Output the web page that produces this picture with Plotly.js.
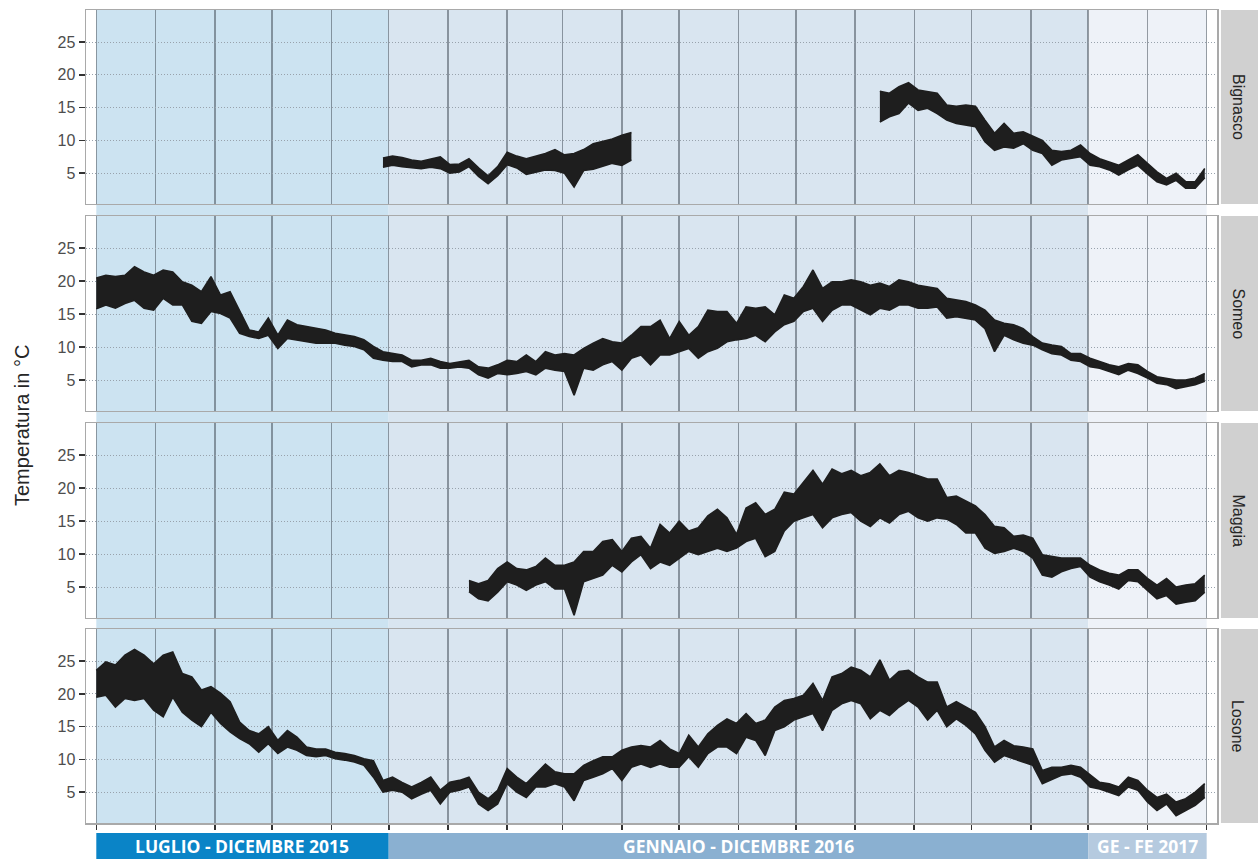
<!DOCTYPE html>
<html>
<head>
<meta charset="utf-8">
<script src="https://cdn.plot.ly/plotly-3.0.1.min.js"></script>
<style>
  html, body { margin: 0; padding: 0; background: #ffffff; }
  #chart { width: 1258px; height: 859px; }
</style>
</head>
<body>
<div id="chart"></div>
<script>
// Water temperature, daily minimum / maximum envelope sampled every 5 days,
// counted from 1 July 2015.
const seriesStart = '2015-07-01';
const sampleStepDays = 5;

const stations = ['Bignasco', 'Someo', 'Maggia', 'Losone'];

// Bignasco: two recording periods
const bignascoA_startDay = 150;
const bignascoA_lo = [5.9,6.2,6.0,5.8,5.7,5.9,5.7,5.0,5.2,6.0,4.5,3.4,4.6,6.3,5.8,4.8,5.2,5.5,5.4,5.0,2.9,5.4,5.6,6.0,6.5,6.2,7.0];
const bignascoA_hi = [7.3,7.6,7.4,7.0,6.8,7.2,7.5,6.3,6.4,7.2,5.8,4.6,6.0,8.2,7.6,7.2,7.6,8.0,8.6,7.8,8.0,8.6,9.5,9.8,10.2,10.8,11.2];
const bignascoB_startDay = 410;
const bignascoB_lo = [12.8,13.6,14.1,15.7,14.6,14.9,14.1,13.1,12.6,12.3,12.1,9.8,8.5,9.0,8.8,9.5,8.5,8.0,6.2,7.0,7.2,7.5,6.2,6.0,5.5,4.7,5.5,6.2,4.9,3.7,3.2,3.9,2.7,2.7,4.3];
const bignascoB_hi = [17.5,17.2,18.2,18.8,17.7,17.4,17.2,15.4,15.2,15.4,15.2,13.1,11.1,12.6,11.1,11.3,10.6,10.0,8.5,8.3,8.5,9.3,8.0,7.2,6.7,6.2,7.0,7.8,6.5,5.2,4.2,5.0,3.7,3.7,5.7];

// Someo
const someo_startDay = 0;
const someo_lo = [15.8,16.4,15.9,16.6,17.1,15.9,15.6,17.4,16.4,16.4,13.9,13.6,15.4,15.1,14.4,12.1,11.6,11.3,11.8,9.8,
  11.3,11.1,10.8,10.6,10.6,10.6,10.3,10.1,9.6,8.3,8.0,7.8,7.8,7.0,7.3,7.3,6.8,6.8,7.0,6.8,
  5.8,5.3,6.0,5.8,6.0,6.3,5.8,6.8,6.5,6.3,2.7,6.8,6.5,7.3,7.8,6.5,8.3,8.8,
  7.3,8.8,8.8,9.3,9.8,8.3,9.3,9.8,10.8,11.1,11.3,11.8,10.8,12.3,13.4,13.9,15.4,15.9,13.9,15.6,
  16.4,16.4,15.6,14.9,15.9,15.6,16.4,16.4,15.9,15.9,16.1,14.4,14.6,14.4,14.1,12.8,9.3,11.8,11.1,10.6,
  10.3,9.6,9.0,8.8,8.0,7.8,7.0,6.8,6.3,5.8,6.5,6.0,5.3,4.5,4.3,3.7,4.0,4.3,4.8];
const someo_hi = [20.5,20.9,20.7,20.9,22.2,21.4,20.9,21.7,21.4,19.9,19.4,18.4,20.7,17.9,18.4,15.4,12.6,12.3,14.4,11.8,
  14.1,13.4,13.1,12.8,12.6,12.1,11.8,11.6,11.1,10.1,9.3,9.0,8.8,8.0,8.0,8.3,7.8,7.5,7.8,8.0,
  7.0,6.8,7.3,8.0,7.8,8.8,7.8,9.3,8.8,9.0,8.8,9.8,10.6,11.3,10.8,10.6,11.8,13.1,
  13.1,14.1,11.3,13.9,11.8,13.1,15.6,15.4,15.4,13.6,16.1,15.9,16.1,14.9,17.9,17.4,19.2,21.7,18.9,19.9,
  19.9,20.2,19.9,19.4,19.7,19.2,20.2,19.9,19.4,19.2,18.9,17.4,17.1,16.9,16.4,15.6,14.1,13.6,13.4,12.8,
  11.6,10.6,10.3,10.1,9.0,9.0,8.3,7.8,7.3,7.0,7.5,7.3,6.3,5.5,5.3,5.0,5.0,5.3,6.0];

// Maggia
const maggia_startDay = 195;
const maggia_lo = [4.3,3.2,2.9,4.2,5.8,5.3,4.5,5.3,5.8,4.7,4.7,0.7,5.8,6.3,6.8,8.3,7.3,8.8,9.9,7.8,
  8.8,8.3,9.4,10.4,9.9,10.4,10.9,10.4,10.9,11.9,12.4,9.6,10.4,13.5,15.0,15.5,16.0,14.0,15.5,16.0,
  16.3,15.0,14.2,15.5,14.7,16.0,16.5,15.5,15.0,15.5,15.3,14.5,13.2,13.2,10.9,10.1,10.4,10.9,10.4,9.4,
  6.8,6.5,7.3,7.8,8.1,6.5,5.8,5.3,4.7,6.0,5.8,4.5,3.2,3.7,2.4,2.7,2.9,4.2];
const maggia_hi = [6.0,5.5,6.0,7.8,8.8,7.8,7.6,8.1,9.4,8.3,8.3,8.8,10.4,10.4,11.9,12.2,10.4,12.4,12.7,10.9,
  14.5,13.2,15.0,13.5,14.0,15.8,16.8,15.5,13.0,17.0,17.8,16.0,16.8,19.4,19.1,20.9,22.7,20.6,22.9,22.2,
  22.7,21.9,22.4,23.7,21.9,22.7,22.4,21.9,21.4,21.4,18.6,18.8,18.1,17.3,16.0,14.2,14.0,12.7,12.9,12.4,
  9.9,9.6,9.4,9.4,9.4,8.3,7.6,7.1,6.8,7.6,7.6,6.3,5.3,6.3,5.0,5.3,5.5,6.8];

// Losone
const losone_startDay = 0;
const losone_lo = [19.5,19.8,18.0,19.3,19.0,19.3,17.5,16.5,19.5,17.2,16.0,15.0,17.2,15.5,14.2,13.2,12.4,11.1,12.4,10.9,
  11.9,11.4,10.6,10.4,10.6,10.1,9.9,9.6,9.1,7.3,5.0,5.3,5.0,4.0,4.7,5.3,3.2,5.0,5.3,5.8,
  3.2,2.2,3.2,6.3,5.0,4.2,5.8,5.8,6.3,5.8,3.7,6.8,7.3,7.8,8.6,6.8,8.8,9.3,
  8.8,9.3,8.8,8.8,10.4,8.8,10.9,11.9,11.9,10.9,13.4,12.9,10.6,14.4,15.0,16.0,16.5,17.0,14.4,17.5,
  18.5,19.0,18.5,16.2,17.5,16.7,18.0,19.0,18.0,16.0,17.5,15.0,16.2,15.2,13.9,11.4,9.6,10.6,10.1,9.6,
  9.1,6.3,7.0,7.6,7.8,7.3,5.8,5.5,5.0,4.5,5.8,5.3,3.5,2.2,3.2,1.4,2.2,3.0,4.2];
const losone_hi = [23.6,24.9,24.4,25.9,26.8,25.9,24.6,25.9,26.4,23.1,22.6,20.6,21.1,20.1,18.8,15.7,14.4,13.9,15.0,12.9,
  14.4,13.4,11.9,11.6,11.6,11.1,10.9,10.6,10.1,9.8,6.8,7.3,6.5,5.8,6.5,7.3,5.3,6.5,6.8,7.3,
  5.0,4.0,5.3,8.6,7.3,6.3,7.8,9.3,8.1,7.8,7.8,9.1,9.8,10.4,10.4,11.4,11.9,12.1,
  11.9,12.9,11.6,10.9,13.7,11.9,13.9,15.2,16.2,15.5,17.0,15.5,16.0,18.0,19.0,19.3,19.8,21.6,19.0,22.6,
  23.1,24.1,23.6,22.6,25.2,22.1,23.4,23.6,22.6,21.8,21.8,18.0,18.8,18.0,17.2,15.0,11.9,12.9,12.1,11.9,
  11.6,8.3,8.8,8.8,9.1,8.8,7.6,6.5,6.3,5.8,7.3,6.8,5.3,4.2,4.7,3.5,4.0,5.0,6.3];

// Period bands and their captions
const periodStart = ['2015-07-01', '2015-12-01', '2016-12-01'];
const periodEnd   = ['2015-12-01', '2016-12-01', '2017-02-01'];
const periodLabel = ['LUGLIO - DICEMBRE 2015', 'GENNAIO - DICEMBRE 2016', 'GE - FE 2017'];

const yTicks = [5, 10, 15, 20, 25];
const yTitle = 'Temperatura in °C';

// ---------------------------------------------------------------------------
const bandFill = ['#cce3f1', '#d9e5f0', '#eef2f8'];
const captionFill = ['#0a84c7', '#8ab0d1', '#b5cadf'];
const lineColor = '#1e1e1e';

const dayMs = 86400000;
const baseMs = Date.parse(seriesStart + 'T00:00:00Z');
function sampleDates(startDay, n) {
  const out = [];
  for (let i = 0; i < n; i++) {
    out.push(new Date(baseMs + (startDay + i * sampleStepDays) * dayMs).toISOString().slice(0, 10));
  }
  return out;
}

function envelope(startDay, lo, hi, axisIdx) {
  const x = sampleDates(startDay, lo.length);
  const xa = axisIdx === 1 ? 'x' : 'x' + axisIdx;
  const ya = axisIdx === 1 ? 'y' : 'y' + axisIdx;
  return [
    { type: 'scatter', mode: 'lines', x: x, y: lo, xaxis: xa, yaxis: ya,
      line: { color: lineColor, width: 1.6 }, hoverinfo: 'skip', showlegend: false },
    { type: 'scatter', mode: 'lines', x: x, y: hi, xaxis: xa, yaxis: ya,
      line: { color: lineColor, width: 1.6 }, fill: 'tonexty', fillcolor: lineColor,
      hoverinfo: 'skip', showlegend: false }
  ];
}

const traces = [].concat(
  envelope(bignascoA_startDay, bignascoA_lo, bignascoA_hi, 1),
  envelope(bignascoB_startDay, bignascoB_lo, bignascoB_hi, 1),
  envelope(someo_startDay, someo_lo, someo_hi, 2),
  envelope(maggia_startDay, maggia_lo, maggia_hi, 3),
  envelope(losone_startDay, losone_lo, losone_hi, 4)
);

// panel geometry (paper fractions, top panel first)
const domains = [[0.7614, 1.0], [0.5068, 0.7466], [0.2522, 0.4920], [0.0, 0.2386]];
const xRange = ['2015-06-25 14:38', '2017-02-06 09:40'];
const frameColor = '#a9a9a9';

const layout = {
  width: 1258, height: 859,
  margin: { l: 86, r: 41, t: 10, b: 36 },
  paper_bgcolor: '#ffffff',
  plot_bgcolor: 'rgba(0,0,0,0)',
  showlegend: false,
  hovermode: false,
  font: { family: 'Liberation Sans, Arial, sans-serif', color: '#4d4d4d' },
  shapes: [],
  annotations: []
};

for (let i = 0; i < 4; i++) {
  const k = i + 1;
  const xKey = k === 1 ? 'xaxis' : 'xaxis' + k;
  const yKey = k === 1 ? 'yaxis' : 'yaxis' + k;
  const yId = k === 1 ? 'y' : 'y' + k;
  layout[xKey] = {
    type: 'date', range: xRange, anchor: yId,
    tick0: seriesStart, dtick: 'M1',
    showgrid: true, gridcolor: 'rgba(55,65,75,0.5)', gridwidth: 1.5,
    showline: true, mirror: true, linecolor: frameColor, linewidth: 1.5,
    zeroline: false, showticklabels: false,
    ticks: k === 4 ? 'outside' : '', ticklen: 5, tickwidth: 1.6, tickcolor: '#333333'
  };
  if (k > 1) layout[xKey].matches = 'x';
  layout[yKey] = {
    domain: domains[i], anchor: k === 1 ? 'x' : 'x' + k,
    range: [0.3, 29.9], tickvals: yTicks, ticktext: yTicks.map(String),
    showgrid: true, gridcolor: '#98a2ac', griddash: '1px,2px', gridwidth: 1,
    showline: true, mirror: true, linecolor: frameColor, linewidth: 1.5,
    zeroline: false,
    ticks: 'outside', ticklen: 6, tickwidth: 1.6, tickcolor: '#333333',
    tickfont: { size: 16, color: '#4d4d4d', family: 'Liberation Sans, Arial, sans-serif' }
  };

  // facet strip on the right
  layout.shapes.push({
    type: 'rect', xref: 'paper', yref: yId + ' domain',
    x0: 1.0035, x1: 1.06, y0: 0, y1: 1,
    fillcolor: '#d0d0d0', line: { width: 0 }, layer: 'above'
  });
  layout.annotations.push({
    xref: 'paper', yref: yId + ' domain', x: 1.0186, y: 0.5,
    text: stations[i], showarrow: false, textangle: 90,
    font: { size: 16, color: '#262626', family: 'Liberation Sans, Arial, sans-serif' },
    xanchor: 'center', yanchor: 'middle'
  });
}

// period bands behind all panels, plus captions below the bottom panel
for (let j = 0; j < periodStart.length; j++) {
  layout.shapes.push({
    type: 'rect', xref: 'x', yref: 'paper',
    x0: periodStart[j], x1: periodEnd[j], y0: 0, y1: 1,
    fillcolor: bandFill[j], line: { width: 0 }, layer: 'below'
  });
  layout.shapes.push({
    type: 'rect', xref: 'x4', yref: 'paper',
    x0: periodStart[j], x1: periodEnd[j], y0: -0.0443, y1: -0.0123,
    fillcolor: captionFill[j], line: { width: 0 }, layer: 'above'
  });
  const mid = new Date((Date.parse(periodStart[j]) + Date.parse(periodEnd[j])) / 2).toISOString().slice(0, 10);
  layout.annotations.push({
    xref: 'x4', yref: 'paper', x: mid, y: -0.0283,
    text: '<b>' + periodLabel[j] + '</b>', showarrow: false,
    font: { size: 17.5, color: '#ffffff', family: 'Open Sans, sans-serif' },
    xanchor: 'center', yanchor: 'middle'
  });
}

// shared y-axis title
layout.annotations.push({
  xref: 'paper', yref: 'paper', x: -0.0566, y: 0.4895,
  text: yTitle, showarrow: false, textangle: -90,
  font: { size: 20, color: '#262626', family: 'Liberation Sans, Arial, sans-serif' },
  xanchor: 'center', yanchor: 'middle'
});

Plotly.newPlot('chart', traces, layout, { staticPlot: true, displayModeBar: false });
</script>
</body>
</html>
